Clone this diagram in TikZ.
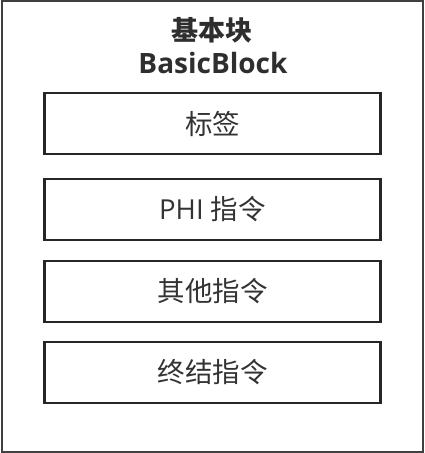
\documentclass[tikz,border=0pt]{standalone}
\usepackage{fontspec}
\setmainfont{Open Sans}
\newfontfamily\cjk{Noto Sans CJK SC}
\usetikzlibrary{positioning}

\begin{document}
\begin{tikzpicture}[x=1pt,y=-1pt,node distance=82pt,on grid,
		part/.style={rectangle,draw=black!85,line width=2.4pt,minimum width=336pt,minimum height=61pt,inner sep=0pt,text=black!80,font=\fontsize{27.5}{30}\selectfont}]
		\useasboundingbox (0,0) rectangle (424,453);
		\node[draw=black!75,line width=2pt,minimum width=421pt,minimum height=451pt,inner sep=0pt] (bb) at (212,226.5) {};
		\node[font=\fontsize{27}{30}\selectfont\bfseries\cjk,text=black!82] (title) at (212,30) {基本块};
		\node[font=\fontsize{28}{30}\selectfont\bfseries,text=black!82] (name) at (213,63) {BasicBlock};
		
		\node[part]  (lbl)   at (212.5,123.5)           {\cjk 标签};
		\node[part]  (phi)   [below=86pt of lbl]       {PHI {\cjk 指令}};
		\node[part]  (other) [below=82pt of phi]       {\cjk 其他指令};
		\node[part]  (term)  [below=81pt of other]     {\cjk 终结指令};
\end{tikzpicture}
\end{document}
